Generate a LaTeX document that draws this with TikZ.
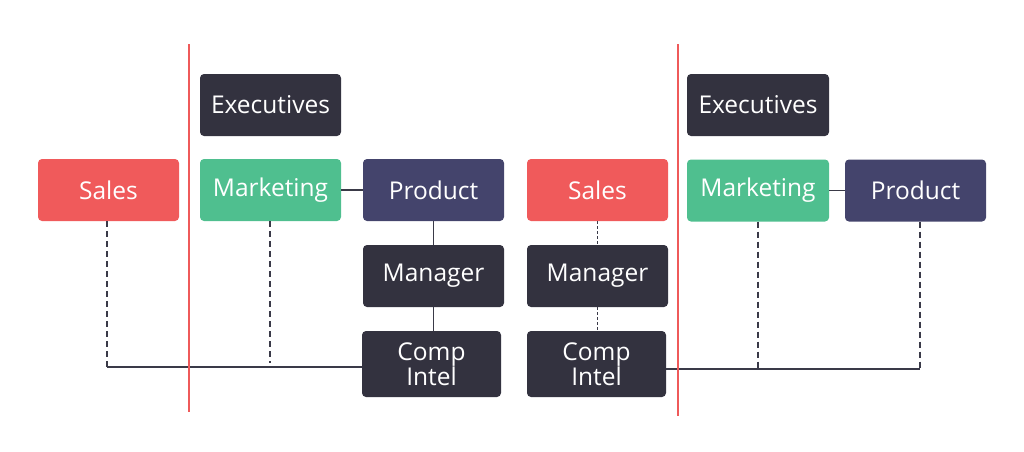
\documentclass[tikz,border=0pt]{standalone}
\usepackage{fontspec}
\setmainfont{Open Sans}
\definecolor{cred}{HTML}{F05A5B}
\definecolor{cgreen}{HTML}{4FBF8F}
\definecolor{cnavy}{HTML}{44446C}
\definecolor{cdark}{HTML}{33323F}
\definecolor{cline}{HTML}{3A3A48}
\definecolor{cdivider}{HTML}{EF5A5A}
\tikzset{
  box/.style={rounded corners=4pt, minimum width=141pt, minimum height=62pt, inner sep=0pt,
    text=white, align=center, font=\fontsize{24.5}{24}\selectfont},
  redbox/.style={box, fill=cred},
  greenbox/.style={box, fill=cgreen},
  navybox/.style={box, fill=cnavy},
  darkbox/.style={box, fill=cdark},
  conn/.style={draw=cline, line width=1.4pt},
  dashconn/.style={conn, dash pattern=on 6pt off 4pt},
  dotconn/.style={conn, line width=1.1pt, dash pattern=on 3pt off 2pt},
  divider/.style={draw=cdivider, line width=1.5pt}
}
\begin{document}
\begin{tikzpicture}[x=1pt,y=-1pt]
\useasboundingbox (0,0) rectangle (1024,451);
% dividers
\coordinate (d1t) at (189,44);
\coordinate (d1b) at (189,412);
\coordinate (d2t) at (678,44);
\coordinate (d2b) at (678,416);
% left group
\node[redbox] (salesL) at (108.5,190) {Sales};
\node[darkbox] (execL) at (270.5,105) {Executives};
\node[greenbox] (mktL) at (270.5,190) {Marketing};
\node[navybox] (prodL) at (433.5,190) {Product};
\node[darkbox] (mgrL) at (433.5,276) {Manager};
\node[darkbox, minimum width=139pt, minimum height=66pt] (compL) at (431.5,364) {Comp\\Intel};
% middle/right group
\node[redbox] (salesR) at (597.5,190) {Sales};
\node[darkbox] (mgrR) at (597.5,276) {Manager};
\node[darkbox, minimum width=139pt, minimum height=66pt] (compR) at (596.5,364) {Comp\\Intel};
\node[darkbox, minimum width=142pt] (execR) at (758,105) {Executives};
\node[greenbox, minimum width=142pt] (mktR) at (758,190.5) {Marketing};
\node[navybox] (prodR) at (915.5,190.5) {Product};
% connectors left
\coordinate (bl) at (107,367);
\coordinate (ml) at (270,363);
\draw[conn] (bl) -- (bl -| compL.west);
\draw[dashconn] (salesL.south -| bl) -- (bl);
\draw[dashconn] (mktL.south -| ml) -- (ml);
\draw[conn] (mktL.east) -- (prodL.west);
\draw[conn] (prodL.south) -- (mgrL.north);
\draw[conn] (mgrL.south) -- (compL.north -| mgrL.south);
% connectors right
\coordinate (br) at (920,369);
\draw[conn] (br -| compR.east) -- (br);
\draw[dashconn] (prodR.south -| br) -- (br);
\draw[dashconn] (mktR.south) -- (mktR.south |- br);
\draw[conn] (mktR.east) -- (prodR.west);
\draw[dotconn] (salesR.south) -- (mgrR.north);
\draw[dotconn] (mgrR.south) -- (compR.north -| mgrR.south);
% dividers drawn
\draw[divider] (d1t) -- (d1b);
\draw[divider] (d2t) -- (d2b);
\end{tikzpicture}
\end{document}
